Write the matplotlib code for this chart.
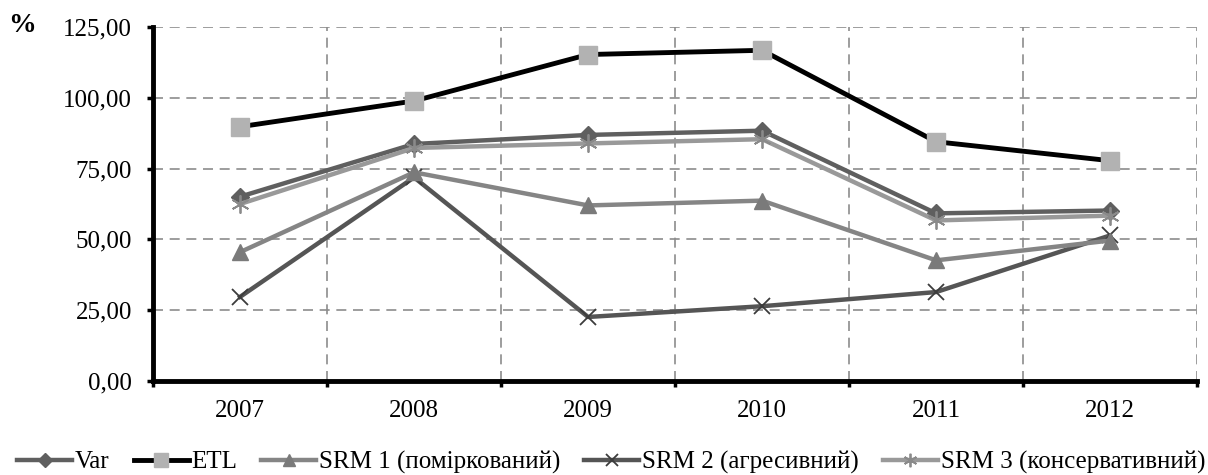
import matplotlib.pyplot as plt
import numpy as np

years = ['2007', '2008', '2009', '2010', '2011', '2012']
var = [65.1, 83.7, 86.9, 88.4, 59.2, 60.2]
etl = [89.8, 98.9, 115.3, 116.8, 84.5, 77.8]
srm1 = [45.5, 73.7, 62.0, 63.7, 42.6, 49.6]
srm2 = [29.7, 71.9, 22.6, 26.4, 31.4, 51.4]
srm3 = [62.5, 82.3, 83.9, 85.4, 56.7, 58.4]
yticks = [0, 25, 50, 75, 100, 125]

plt.rcParams['font.family'] = ['Liberation Serif', 'DejaVu Serif']

fig = plt.figure(figsize=(12.08, 4.75), dpi=100)
ax = fig.add_axes([0.1267, 0.198, 0.8643, 0.745])

x = np.arange(len(years))
ax.plot(x, var, color='#5f5f5f', lw=3.2, marker='D', ms=9, mfc='#5f5f5f', mec='#5f5f5f',
        label='Var', zorder=5)
ax.plot(x, etl, color='black', lw=3.5, marker='s', ms=13, mfc='#b2b2b2', mec='#b2b2b2',
        label='ETL', zorder=6)
ax.plot(x, srm1, color='#858585', lw=3.2, marker='^', ms=12, mfc='#7a7a7a', mec='#7a7a7a',
        label='SRM 1 (поміркований)', zorder=4)
ax.plot(x, srm2, color='#555555', lw=3.2, marker='x', ms=11, mew=1.3, mec='#3c3c3c',
        label='SRM 2 (агресивний)', zorder=3)
# asterisk marker drawn as six thin spokes
ax.plot(x, srm3, color='#999999', lw=3.2, marker=(6, 2, 0), ms=13, mew=1.3, mec='#8a8a8a',
        label='SRM 3 (консервативний)', zorder=5)

ax.set_xlim(-0.5, len(years) - 0.5)
ax.set_ylim(0, 125)
ax.set_yticks(yticks)
ax.set_yticklabels([('%.2f' % v).replace('.', ',') for v in yticks])
ax.set_xticks(x)
ax.set_xticklabels(years)
ax.set_xticks(np.arange(-0.5, len(years), 1), minor=True)

ax.tick_params(axis='x', which='major', length=0, pad=14, labelsize=18)
ax.tick_params(axis='x', which='minor', length=4, width=2.5, direction='out')
ax.tick_params(axis='y', length=4, width=2.5, direction='out', pad=11, labelsize=18)

ax.grid(True, axis='y', ls=(0, (6, 4)), color='#8c8c8c', lw=1.2)
ax.grid(True, axis='x', which='minor', ls=(0, (6, 4)), color='#8c8c8c', lw=1.2)
ax.set_axisbelow(True)

for side in ['top', 'right']:
    ax.spines[side].set_visible(False)
ax.spines['left'].set_linewidth(3.5)
ax.spines['bottom'].set_linewidth(3.5)

fig.text(0.007, 0.933, '%', fontsize=20, fontweight='bold', va='baseline')

fig.legend(loc='center', bbox_to_anchor=(0.506, 0.027), ncol=5, frameon=False,
           fontsize=18, handlelength=2.2, handletextpad=0.12, columnspacing=0.95,
           markerscale=0.75, borderaxespad=0, borderpad=0)

fig.savefig('out.png', dpi=100)
